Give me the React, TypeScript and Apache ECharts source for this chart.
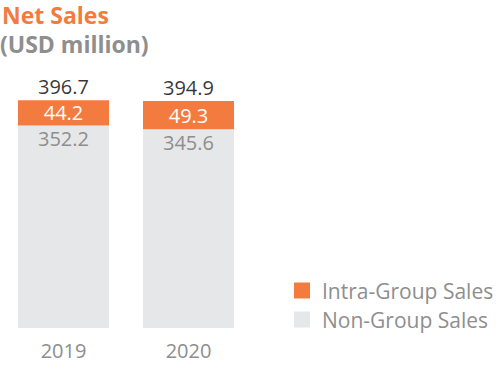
import React, { useEffect, useRef } from "react";
import * as echarts from "echarts";

const categories = ["2019", "2020"];
const nonGroup = [352.2, 345.6];
const intraGroup = [44.2, 49.3];
const totals = [396.7, 394.9];
const seriesNames = ["Intra-Group Sales", "Non-Group Sales"];

const FONT = "'Open Sans', 'Noto Sans', sans-serif";

export default function App() {
  const ref = useRef<HTMLDivElement>(null);
  useEffect(() => {
    document.body.style.margin = "0";
    if (!ref.current) return;
    const chart = echarts.init(ref.current, null, { renderer: "svg" });
    chart.setOption({
      animation: false,
      textStyle: { fontFamily: FONT },
      graphic: [
        {
          type: "text",
          left: 2,
          top: 3,
          style: { text: "Net Sales", fill: "#F47B40", font: `bold 23px ${FONT}` },
        },
        {
          type: "text",
          left: 0,
          top: 32,
          style: { text: "(USD million)", fill: "#8E8E8E", font: `bold 23px ${FONT}` },
        },
      ],
      legend: {
        data: seriesNames,
        orient: "vertical",
        left: 289,
        top: 275,
        itemWidth: 16,
        itemHeight: 16,
        itemGap: 8,
        icon: "rect",
        textStyle: { color: "#8E8E8E", fontSize: 21, fontFamily: FONT, padding: [0, 0, 0, 7] },
      },
      grid: { left: 1, width: 250, top: 100, bottom: 49, containLabel: false },
      xAxis: {
        type: "category",
        data: categories,
        axisLine: { show: false },
        axisTick: { show: false },
        axisLabel: { color: "#8E8E8E", fontSize: 20, margin: 12, fontFamily: FONT },
      },
      yAxis: {
        type: "value",
        min: 0,
        max: Math.max(...totals),
        show: false,
        splitLine: { show: false },
      },
      series: [
        {
          name: "Non-Group Sales",
          type: "bar",
          stack: "s",
          barWidth: 91,
          data: nonGroup,
          itemStyle: { color: "#E6E7E8" },
          label: {
            show: true,
            position: "insideTop",
            distance: 3,
            color: "#8E8E8E",
            fontSize: 20,
            fontFamily: FONT,
          },
        },
        {
          name: "Intra-Group Sales",
          type: "bar",
          stack: "s",
          barWidth: 91,
          data: intraGroup,
          itemStyle: { color: "#F47B40" },
          label: {
            show: true,
            position: "inside",
            color: "#FFFFFF",
            fontSize: 20,
            fontFamily: FONT,
          },
        },
        {
          name: "Total",
          type: "scatter",
          data: totals,
          symbolSize: 0,
          label: {
            show: true,
            position: "top",
            distance: 4,
            color: "#000000",
            fontSize: 20,
            fontFamily: FONT,
          },
        },
      ],
    });
    return () => chart.dispose();
  }, []);
  return <div ref={ref} style={{ width: 499, height: 377 }} />;
}
